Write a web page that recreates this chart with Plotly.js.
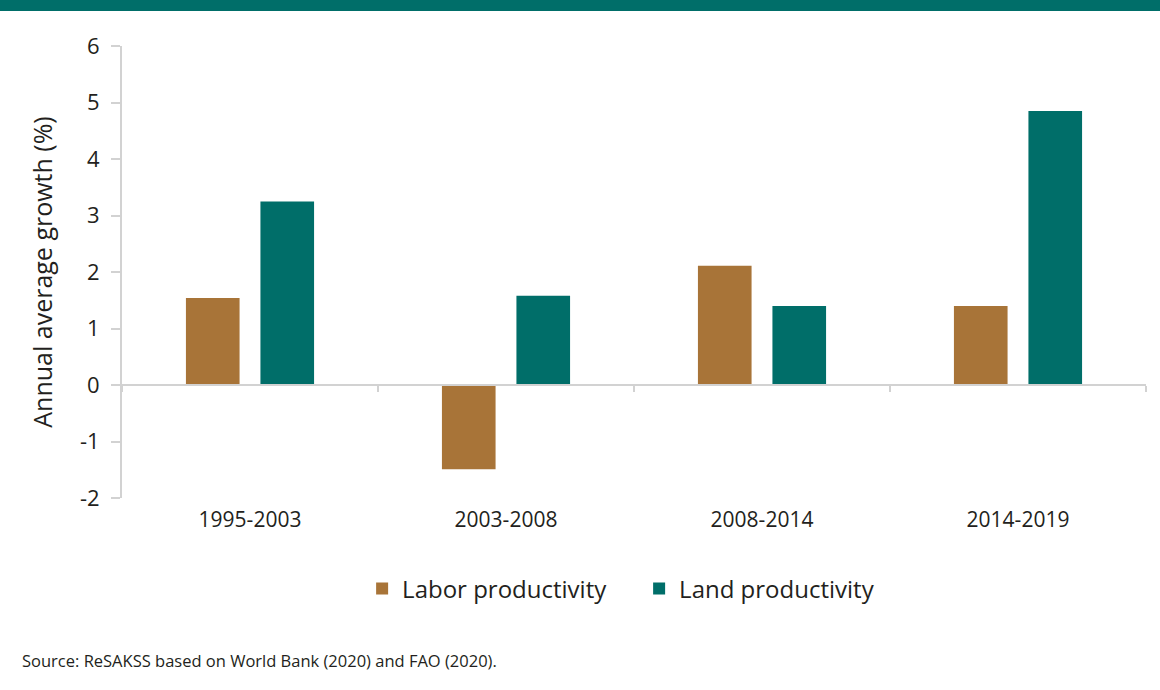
<!DOCTYPE html>
<html>
<head>
<meta charset="utf-8">
<script src="https://cdn.plot.ly/plotly-3.0.1.min.js"></script>
<style>
html,body{margin:0;padding:0;background:#fff;}
#band{position:absolute;left:0;top:0;width:1160px;height:11px;background:#006e69;z-index:5;}
#chart{width:1160px;height:690px;}
</style>
</head>
<body>
<div id="band"></div>
<div id="chart"></div>
<script>
const periods = ["1995-2003", "2003-2008", "2008-2014", "2014-2019"];
const laborProductivity = [1.54, -1.49, 2.11, 1.40];
const landProductivity = [3.25, 1.58, 1.40, 4.85];
const seriesNames = ["Labor productivity", "Land productivity"];
const yTickValues = [-2, -1, 0, 1, 2, 3, 4, 5, 6];
const yTickLabels = ["-2", "-1", "0", "1", "2", "3", "4", "5", "6"];
const sourceNote = "Source: ReSAKSS based on World Bank (2020) and FAO (2020).";
const yTitle = "Annual average growth (%)";

const FONT = "Open Sans, Noto Sans, sans-serif";
const TXT = "#231f20";
const AX = "#d2d2d2";

const traces = [
  {type: "bar", name: seriesNames[0], x: periods, y: laborProductivity,
   marker: {color: "#a87438"}, hoverinfo: "x+y"},
  {type: "bar", name: seriesNames[1], x: periods, y: landProductivity,
   marker: {color: "#006e69"}, hoverinfo: "x+y"},
  {type: "scatter", mode: "markers", x: periods, y: periods.map(() => null),
   xaxis: "x2", yaxis: "y", showlegend: false, hoverinfo: "skip",
   marker: {opacity: 0}}
];

const layout = {
  width: 1160, height: 690,
  margin: {l: 122, r: 14, t: 46, b: 192},
  paper_bgcolor: "#fff", plot_bgcolor: "#fff",
  font: {family: FONT, color: TXT},
  barmode: "group", bargap: 0.418, bargroupgap: 0.28,
  showlegend: true,
  legend: {orientation: "h", x: 0.505, xanchor: "center", y: -0.201, yanchor: "middle",
           font: {size: 24, color: TXT, family: FONT}, itemwidth: 30,
           entrywidth: 232, traceorder: "normal"},
  xaxis: {type: "category", showline: false, ticks: "", showgrid: false, zeroline: false,
          tickfont: {size: 21, color: TXT}, ticklabelstandoff: 7},
  xaxis2: {type: "category", overlaying: "x", matches: "x", anchor: "free", position: 0.25,
           side: "bottom", showline: true, linecolor: AX, linewidth: 2,
           ticks: "outside", tickson: "boundaries", ticklen: 6, tickcolor: AX, tickwidth: 2,
           showticklabels: false, showgrid: false, zeroline: false},
  yaxis: {range: [-2, 6], tickmode: "array", tickvals: yTickValues, ticktext: yTickLabels,
          showgrid: false, zeroline: false,
          showline: true, linecolor: AX, linewidth: 2,
          ticks: "outside", ticklen: 9, tickcolor: AX, tickwidth: 2,
          tickfont: {size: 22, color: TXT}, ticklabelstandoff: 7,
          title: {text: yTitle, font: {size: 25, color: TXT}, standoff: 20}},
  annotations: [
    {text: sourceNote, xref: "paper", yref: "paper", x: -0.1, y: -0.36,
     xanchor: "left", yanchor: "middle", showarrow: false,
     font: {size: 16.5, color: TXT, family: FONT}}
  ]
};

Plotly.newPlot("chart", traces, layout, {displayModeBar: false, staticPlot: true});
</script>
</body>
</html>
